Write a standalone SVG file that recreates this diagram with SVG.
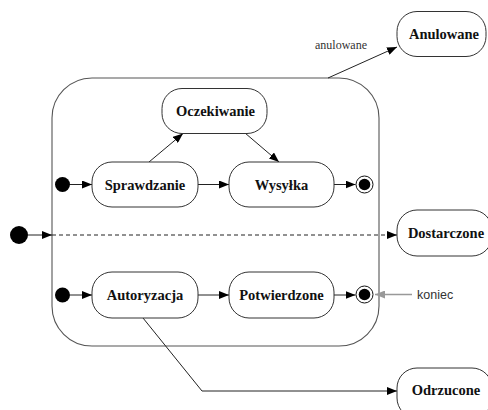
<svg xmlns="http://www.w3.org/2000/svg" width="488" height="410" viewBox="0 0 488 410">
  <style>
    .state { fill: #fff; stroke: #333; stroke-width: 1; }
    .comp { fill: none; stroke: #555; stroke-width: 1.1; }
    .lbl { font-family: "Liberation Serif", "Times New Roman", serif; font-weight: bold; font-size: 14.5px; fill: #111; text-anchor: middle; }
    .note { font-family: "Liberation Serif", "Times New Roman", serif; font-size: 12px; fill: #333; text-anchor: middle; }
    .note-sans { font-family: "Liberation Sans", Arial, sans-serif; font-size: 12.5px; fill: #333; }
    .edge { fill: none; stroke: #222; stroke-width: 1; marker-end: url(#arr); }
    .dash { fill: none; stroke: #222; stroke-width: 1; stroke-dasharray: 4 3; marker-end: url(#arr); }
    .hint { fill: none; stroke: #999; stroke-width: 1.5; marker-end: url(#arrGray); }
    .init { fill: #000; }
    .final-ring { fill: #fff; stroke: #111; stroke-width: 1; }
    .final-dot { fill: #000; }
  </style>
  <defs>
    <marker id="arr" viewBox="0 0 10 8" refX="10" refY="4" markerWidth="10" markerHeight="8" markerUnits="userSpaceOnUse" orient="auto">
      <path d="M0,0 L10,4 L0,8 z" fill="#000"/>
    </marker>
    <marker id="arrGray" viewBox="0 0 10 8" refX="10" refY="4" markerWidth="10" markerHeight="8" markerUnits="userSpaceOnUse" orient="auto">
      <path d="M0,0 L10,4 L0,8 z" fill="#999"/>
    </marker>
  </defs>

  <!-- composite state -->
  <g id="composite">
    <rect class="comp" x="52" y="78" width="327" height="268" rx="40" ry="40"/>
  </g>

  <!-- connectors -->
  <g id="connectors">
    <line class="edge" x1="28" y1="235" x2="52" y2="235"/>
    <line class="dash" x1="52" y1="235" x2="397" y2="235"/>
    <line class="edge" x1="70" y1="184.5" x2="92" y2="184.5"/>
    <line class="edge" x1="198" y1="184.5" x2="229" y2="184.5"/>
    <line class="edge" x1="149" y1="162" x2="183" y2="133.5"/>
    <line class="edge" x1="245" y1="133" x2="279" y2="162"/>
    <line class="edge" x1="334" y1="184.5" x2="355.5" y2="184.5"/>
    <line class="edge" x1="70" y1="295" x2="92" y2="295"/>
    <line class="edge" x1="198" y1="295" x2="229" y2="295"/>
    <line class="edge" x1="334" y1="295" x2="355.5" y2="295"/>
    <polyline class="edge" points="143,318 202,391 397,391"/>
    <line class="edge" x1="328" y1="78" x2="397" y2="47"/>
    <line class="hint" x1="412" y1="294.5" x2="375" y2="294.5"/>
    <text class="note" x="341" y="49">anulowane</text>
    <text class="note-sans" x="417" y="299">koniec</text>
  </g>

  <!-- pseudo states -->
  <g id="init-main"><circle class="init" cx="19" cy="235" r="9"/></g>
  <g id="init-top"><circle class="init" cx="62.5" cy="184.5" r="7.5"/></g>
  <g id="init-bottom"><circle class="init" cx="62.5" cy="295" r="7.5"/></g>
  <g id="final-top">
    <circle class="final-ring" cx="364.5" cy="184.5" r="8.5"/>
    <circle class="final-dot" cx="364.5" cy="184.5" r="5.8"/>
  </g>
  <g id="final-bottom">
    <circle class="final-ring" cx="364.5" cy="294.5" r="8.5"/>
    <circle class="final-dot" cx="364.5" cy="294.5" r="5.8"/>
  </g>

  <!-- states -->
  <g id="oczekiwanie">
    <rect class="state" x="162" y="88.5" width="105" height="45" rx="20" ry="20"/>
    <text class="lbl" x="215.5" y="116">Oczekiwanie</text>
  </g>
  <g id="sprawdzanie">
    <rect class="state" x="92" y="162" width="106" height="45" rx="20" ry="20"/>
    <text class="lbl" x="145" y="189.5">Sprawdzanie</text>
  </g>
  <g id="wysylka">
    <rect class="state" x="229" y="162" width="105" height="45" rx="20" ry="20"/>
    <text class="lbl" x="281.5" y="189.5">Wysyłka</text>
  </g>
  <g id="autoryzacja">
    <rect class="state" x="92" y="272" width="106" height="46" rx="20" ry="20"/>
    <text class="lbl" x="145" y="300">Autoryzacja</text>
  </g>
  <g id="potwierdzone">
    <rect class="state" x="229" y="272" width="105" height="46" rx="20" ry="20"/>
    <text class="lbl" x="281.5" y="300">Potwierdzone</text>
  </g>
  <g id="anulowane">
    <rect class="state" x="397" y="11.5" width="89" height="45" rx="20" ry="20"/>
    <text class="lbl" x="444" y="38.5">Anulowane</text>
  </g>
  <g id="dostarczone">
    <rect class="state" x="397" y="210" width="95" height="46" rx="20" ry="20"/>
    <text class="lbl" x="446" y="238">Dostarczone</text>
  </g>
  <g id="odrzucone">
    <rect class="state" x="397" y="368" width="95" height="50" rx="20" ry="20"/>
    <text class="lbl" x="446" y="395">Odrzucone</text>
  </g>
</svg>
